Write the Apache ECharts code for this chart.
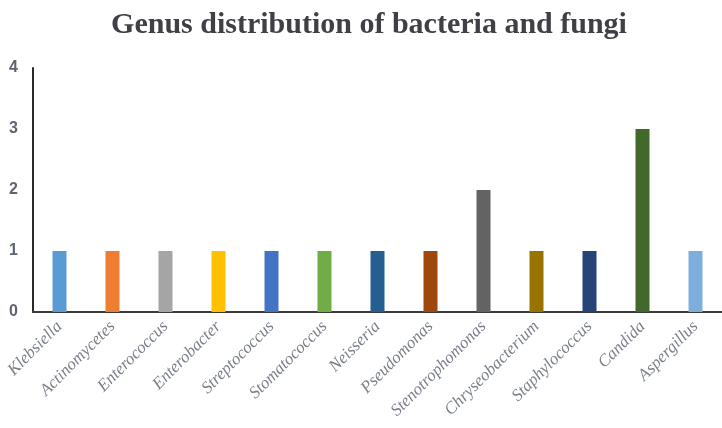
<!DOCTYPE html>
<html>
<head>
<meta charset="utf-8">
<script src="https://cdn.jsdelivr.net/npm/echarts@6/dist/echarts.min.js"></script>
<style>
  html, body { margin: 0; padding: 0; background: #fff; }
  #chart { width: 722px; height: 428px; }
</style>
</head>
<body>
<div id="chart"></div>
<script>
// Genera found in the samples
const genera = [
  'Klebsiella', 'Actinomycetes', 'Enterococcus', 'Enterobacter', 'Streptococcus',
  'Stomatococcus', 'Neisseria', 'Pseudomonas', 'Stenotrophomonas', 'Chryseobacterium',
  'Staphylococcus', 'Candida', 'Aspergillus'
];
// Number of isolates per genus
const counts = [1, 1, 1, 1, 1, 1, 1, 1, 2, 1, 1, 3, 1];
// One colour per bar
const barColors = [
  '#5B9BD5', '#ED7D31', '#A5A5A5', '#FFC000', '#4472C4', '#70AD47', '#255E91',
  '#9E480E', '#636363', '#997300', '#264478', '#43682B', '#7CAFDD'
];
const yTicks = [0, 1, 2, 3, 4];

const chart = echarts.init(document.getElementById('chart'));
chart.setOption({
  backgroundColor: '#fff',
  animation: false,
  title: {
    text: 'Genus distribution of bacteria and fungi',
    left: 364,
    textAlign: 'center',
    top: 5,
    textStyle: {
      fontFamily: 'Liberation Serif',
      fontWeight: 'bold',
      fontSize: 30,
      color: '#3f3f46'
    }
  },
  grid: { left: 33, top: 68, width: 695, height: 244 },
  xAxis: {
    type: 'category',
    data: genera,
    axisLine: { lineStyle: { color: '#3a3a3a', width: 2 } },
    axisTick: { show: false },
    axisLabel: {
      interval: 0,
      rotate: 45,
      margin: 12,
      fontFamily: 'Liberation Serif',
      fontStyle: 'italic',
      fontSize: 17,
      color: '#7a7f8a'
    }
  },
  yAxis: {
    type: 'value',
    min: yTicks[0],
    max: yTicks[yTicks.length - 1],
    interval: 1,
    axisLine: { show: true, lineStyle: { color: '#2a2a2a', width: 2 } },
    axisTick: { show: false },
    splitLine: { show: false },
    axisLabel: {
      margin: 15,
      fontFamily: 'Liberation Sans',
      fontWeight: 'bold',
      fontSize: 16,
      color: '#5f6472'
    }
  },
  series: [{
    type: 'bar',
    barWidth: 14,
    data: counts.map((v, i) => ({ value: v, itemStyle: { color: barColors[i] } }))
  }]
});
</script>
</body>
</html>
